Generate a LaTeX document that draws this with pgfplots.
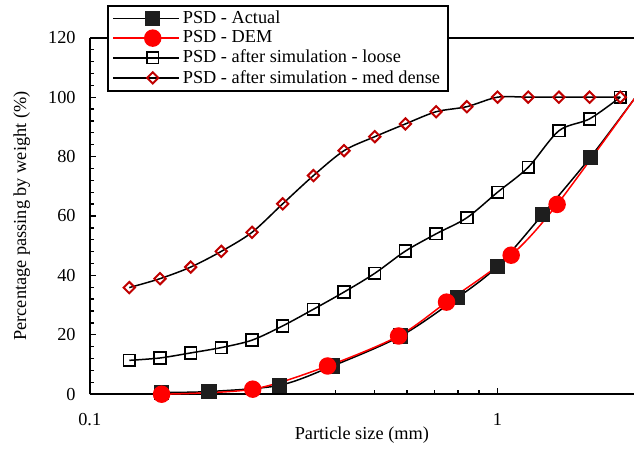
\documentclass[border=0pt]{standalone}
\usepackage{pgfplots}
\pgfplotsset{compat=1.18}
\usepackage{fontspec}
\setmainfont{Liberation Serif}

\definecolor{demred}{RGB}{255,0,0}
\definecolor{dkred}{RGB}{192,0,0}
\definecolor{sqfill}{RGB}{30,30,30}

\begin{document}
\begin{tikzpicture}
\begin{axis}[
  scale only axis, width=327pt, height=214.2pt,
  xmode=log, xmin=0.1, xmax=2.16, ymin=0, ymax=120,
  axis x line*=box, axis y line*=left,
  xtick pos=bottom, ytick pos=left,
  xtick={0.1,1}, xticklabels={0.1,1},
  ytick={0,20,...,120}, minor y tick num=4,
  tick align=inside,
  major tick length=4pt, minor tick length=2.5pt,
  tick style={line width=0.8pt, black},
  axis line style={line width=1.2pt},
  /pgf/number format/assume math mode=true,
  tick label style={font=\fontsize{11}{13}\selectfont},
  xticklabel style={yshift=-8pt},
  yticklabel style={xshift=-5pt},
  label style={font=\fontsize{11}{13}\selectfont},
  xlabel={Particle size (mm)},
  ylabel={Percentage passing by weight (\%)},
  xlabel style={yshift=6pt},
  ylabel style={yshift=4pt},
  legend cell align=left,
  legend style={at={(0.031,1.092)}, anchor=north west,
    font=\fontsize{11}{12.6}\selectfont, draw=black, line width=1.2pt,
    fill=white, inner xsep=3pt, inner ysep=1pt, row sep=-1.2pt},
  legend image code/.code={
    \path (-8pt,0pt) -- (0pt,0pt);
    \draw[mark repeat=2, mark phase=2, line width=0.9pt]
      plot coordinates {(0cm,0cm) (0.55cm,0cm) (1.1cm,0cm)};},
]
\coordinate (bbA) at (rel axis cs:-0.165,-0.134);
\coordinate (bbB) at (rel axis cs:1.002,1.106);

\addplot[black, line width=0.9pt, smooth, mark=square*, mark size=4.3pt,
  mark options={fill=sqfill, draw=sqfill, line width=0.5pt}] coordinates {
  (0.15,0.6) (0.196,0.9) (0.292,3.0) (0.394,9.5) (0.579,19.6) (0.798,32.5)
  (1.0,43.1) (1.29,60.5) (1.69,79.8) (2.18,100)};
\addlegendentry{PSD - Actual}

\addplot[demred, line width=0.9pt, smooth, mark=*, mark size=4.8pt,
  mark options={fill=demred, draw=demred}] coordinates {
  (0.15,0) (0.251,1.7) (0.383,9.5) (0.572,19.6) (0.75,31.0) (1.08,46.8)
  (1.40,63.9) (2.18,100)};
\addlegendentry{PSD - DEM}

\addplot[black, line width=0.9pt, smooth, mark=square, mark size=3.5pt,
  mark options={fill=white, line width=1pt}] coordinates {
  (0.125,11.4) (0.1487,12.2) (0.1768,13.9) (0.2102,15.7) (0.25,18.2)
  (0.2973,23.0) (0.3536,28.6) (0.4204,34.4) (0.5,40.7) (0.5946,48.2)
  (0.7071,54.0) (0.8409,59.4) (1.0,68.0) (1.1892,76.4) (1.4142,88.7)
  (1.6818,92.7) (2.0,100)};
\addlegendentry{PSD - after simulation - loose}

\addplot[black, line width=0.9pt, smooth, mark=square, mark size=2.4pt,
  mark options={rotate=45, draw=dkred, fill=white, line width=1.2pt}] coordinates {
  (0.125,35.9) (0.1487,38.9) (0.1768,42.8) (0.2102,48.1) (0.25,54.5)
  (0.2973,64.1) (0.3536,73.6) (0.4204,82.0) (0.5,86.7) (0.5946,91.0)
  (0.7071,95.1) (0.8409,96.8) (1.0,100) (1.1892,100) (1.4142,100)
  (1.6818,100) (2.0,100)};
\addlegendentry{PSD - after simulation - med dense}
\end{axis}
\path (bbA) rectangle (bbB);
\end{tikzpicture}
\end{document}
